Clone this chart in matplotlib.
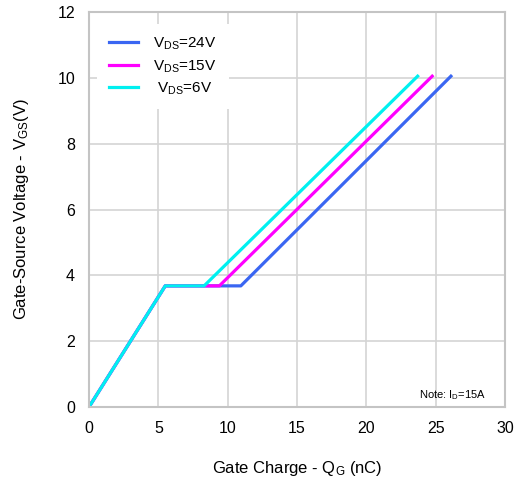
import matplotlib
matplotlib.use("Agg")
import matplotlib.pyplot as plt

plt.rcParams['font.family'] = ['Liberation Sans', 'DejaVu Sans']
plt.rcParams['mathtext.fontset'] = 'custom'
plt.rcParams['mathtext.rm'] = 'Liberation Sans'
plt.rcParams['mathtext.it'] = 'Liberation Sans'

# gate charge (nC) vs gate-source voltage (V)
qg_24 = [0, 5.5, 10.95, 26.1]
vgs_24 = [0, 3.68, 3.68, 10.05]
qg_15 = [0, 5.5, 9.4, 24.75]
vgs_15 = [0, 3.68, 3.68, 10.05]
qg_6 = [0, 5.5, 8.3, 23.7]
vgs_6 = [0, 3.68, 3.68, 10.05]

fig = plt.figure(figsize=(5.18, 4.82), dpi=100)
ax = fig.add_axes([89/518, 1 - 407/482, 416/518, 395/482])

ax.plot(qg_24, vgs_24, color='#3a66f2', lw=2.3, label=r'V$_{\rm DS}$=24V')
ax.plot(qg_15, vgs_15, color='#ff00ff', lw=2.3, label=r'V$_{\rm DS}$=15V')
ax.plot(qg_6, vgs_6, color='#00f0f0', lw=2.3, label=r' V$_{\rm DS}$=6V')

ax.set_xlim(0, 30)
ax.set_ylim(0, 12)
ax.set_xticks(range(0, 31, 5))
ax.set_yticks(range(0, 13, 2))
ax.grid(True, color='#d4d4d4', lw=1.2)
ax.set_axisbelow(True)
for s in ax.spines.values():
    s.set_color('#c4c4c4')
    s.set_linewidth(1.5)
ax.tick_params(length=0, labelsize=11.5, pad=10)

ax.set_xlabel(r'Gate Charge - Q$_{\rm G}$ (nC)', fontsize=12, labelpad=17)
ax.set_ylabel(r'Gate-Source Voltage - V$_{\rm GS}$(V)', fontsize=12, labelpad=19)

leg = ax.legend(loc='upper left', bbox_to_anchor=(0.0, 0.99), frameon=True,
                fontsize=11, handlelength=1.9, handletextpad=1.0,
                labelspacing=0.4, borderpad=0.8, fancybox=False)
leg.get_frame().set_edgecolor('none')
leg.get_frame().set_facecolor('white')
leg.get_frame().set_alpha(1)

ax.text(0.955, 0.012, r'Note: I$_{\rm D}$=15A', transform=ax.transAxes,
        fontsize=8, ha='right', va='bottom')

fig.savefig('out.png', dpi=100)
